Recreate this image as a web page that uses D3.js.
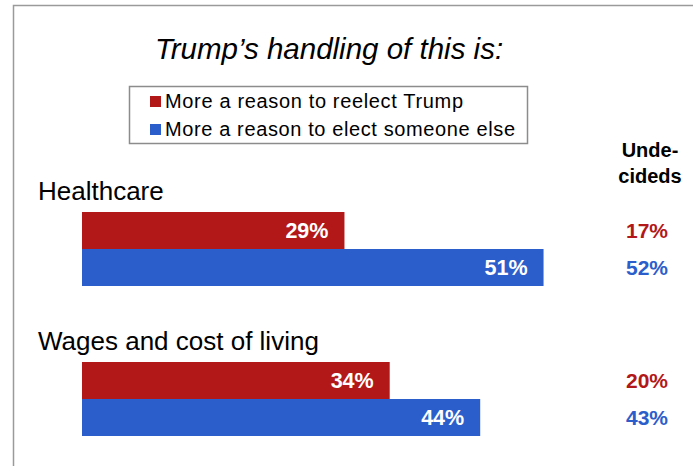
<!DOCTYPE html>
<html>
<head>
<meta charset="utf-8">
<script src="https://cdn.jsdelivr.net/npm/d3@7"></script>
<style>
  html, body { margin: 0; padding: 0; background: #fff; }
  svg { display: block; font-family: "Liberation Sans", Arial, sans-serif; }
</style>
</head>
<body>
<svg id="chart" width="693" height="466"></svg>
<script>
// Survey question: does Trump's handling of each issue make voters more or less likely to reelect him
const categories = ["Healthcare", "Wages and cost of living"];
const seriesNames = ["More a reason to reelect Trump", "More a reason to elect someone else"];
const reelectValues = [29, 34];
const elseValues = [51, 44];
const undecidedReelect = [17, 20];
const undecidedElse = [52, 43];
const colors = ["#B31818", "#2C5ECB"];

const svg = d3.select("#chart");

// Outer frame (open on the right and bottom edges of the page)
svg.append("path")
  .attr("d", "M13.5,466 V5.5 H693")
  .attr("fill", "none")
  .attr("stroke", "#9a9a9a")
  .attr("stroke-width", 1.5);

// Title
svg.append("text")
  .attr("x", 329).attr("y", 59)
  .attr("text-anchor", "middle")
  .attr("font-size", 29.5)
  .attr("font-style", "italic")
  .attr("fill", "#000")
  .text("Trump\u2019s handling of this is:");

// Legend
const legend = svg.append("g");
legend.append("rect")
  .attr("x", 129.5).attr("y", 86.5)
  .attr("width", 398).attr("height", 57)
  .attr("fill", "#fff")
  .attr("stroke", "#8c8c8c")
  .attr("stroke-width", 1.5);
seriesNames.forEach((name, i) => {
  const y = 101 + i * 28;
  legend.append("rect")
    .attr("x", 150).attr("y", y - 5)
    .attr("width", 11).attr("height", 11)
    .attr("fill", colors[i]);
  legend.append("text")
    .attr("x", 165).attr("y", y + 6.5)
    .attr("font-size", 20)
    .attr("textLength", i === 0 ? 298 : 350)
    .attr("fill", "#000")
    .text(name);
});

// Scales
const x = d3.scaleLinear().domain([0, 100]).range([82, 987]);
const groupTop = d3.scalePoint().domain(categories).range([212, 362]);
const barH = 37;

// Undecided column header
svg.append("text")
  .attr("x", 650).attr("y", 157)
  .attr("text-anchor", "middle")
  .attr("font-size", 20).attr("font-weight", "bold")
  .text("Unde-");
svg.append("text")
  .attr("x", 650).attr("y", 183)
  .attr("text-anchor", "middle")
  .attr("font-size", 20).attr("font-weight", "bold")
  .text("cideds");

categories.forEach((cat, i) => {
  const top = groupTop(cat);
  // Category label
  svg.append("text")
    .attr("x", 38).attr("y", top - 12)
    .attr("font-size", 26)
    .attr("fill", "#000")
    .text(cat);

  const vals = [reelectValues[i], elseValues[i]];
  const und = [undecidedReelect[i], undecidedElse[i]];
  vals.forEach((v, j) => {
    const y0 = top + j * barH;
    svg.append("rect")
      .attr("x", x(0)).attr("y", y0)
      .attr("width", x(v) - x(0)).attr("height", barH)
      .attr("fill", colors[j]);
    svg.append("text")
      .attr("x", x(v) - 16).attr("y", y0 + barH / 2 + 7.5)
      .attr("text-anchor", "end")
      .attr("font-size", 21.5).attr("font-weight", "bold")
      .attr("fill", "#fff")
      .text(v + "%");
    svg.append("text")
      .attr("x", 668).attr("y", y0 + barH / 2 + 7.5)
      .attr("text-anchor", "end")
      .attr("font-size", 21).attr("font-weight", "bold")
      .attr("fill", colors[j])
      .text(und[j] + "%");
  });
});
</script>
</body>
</html>
